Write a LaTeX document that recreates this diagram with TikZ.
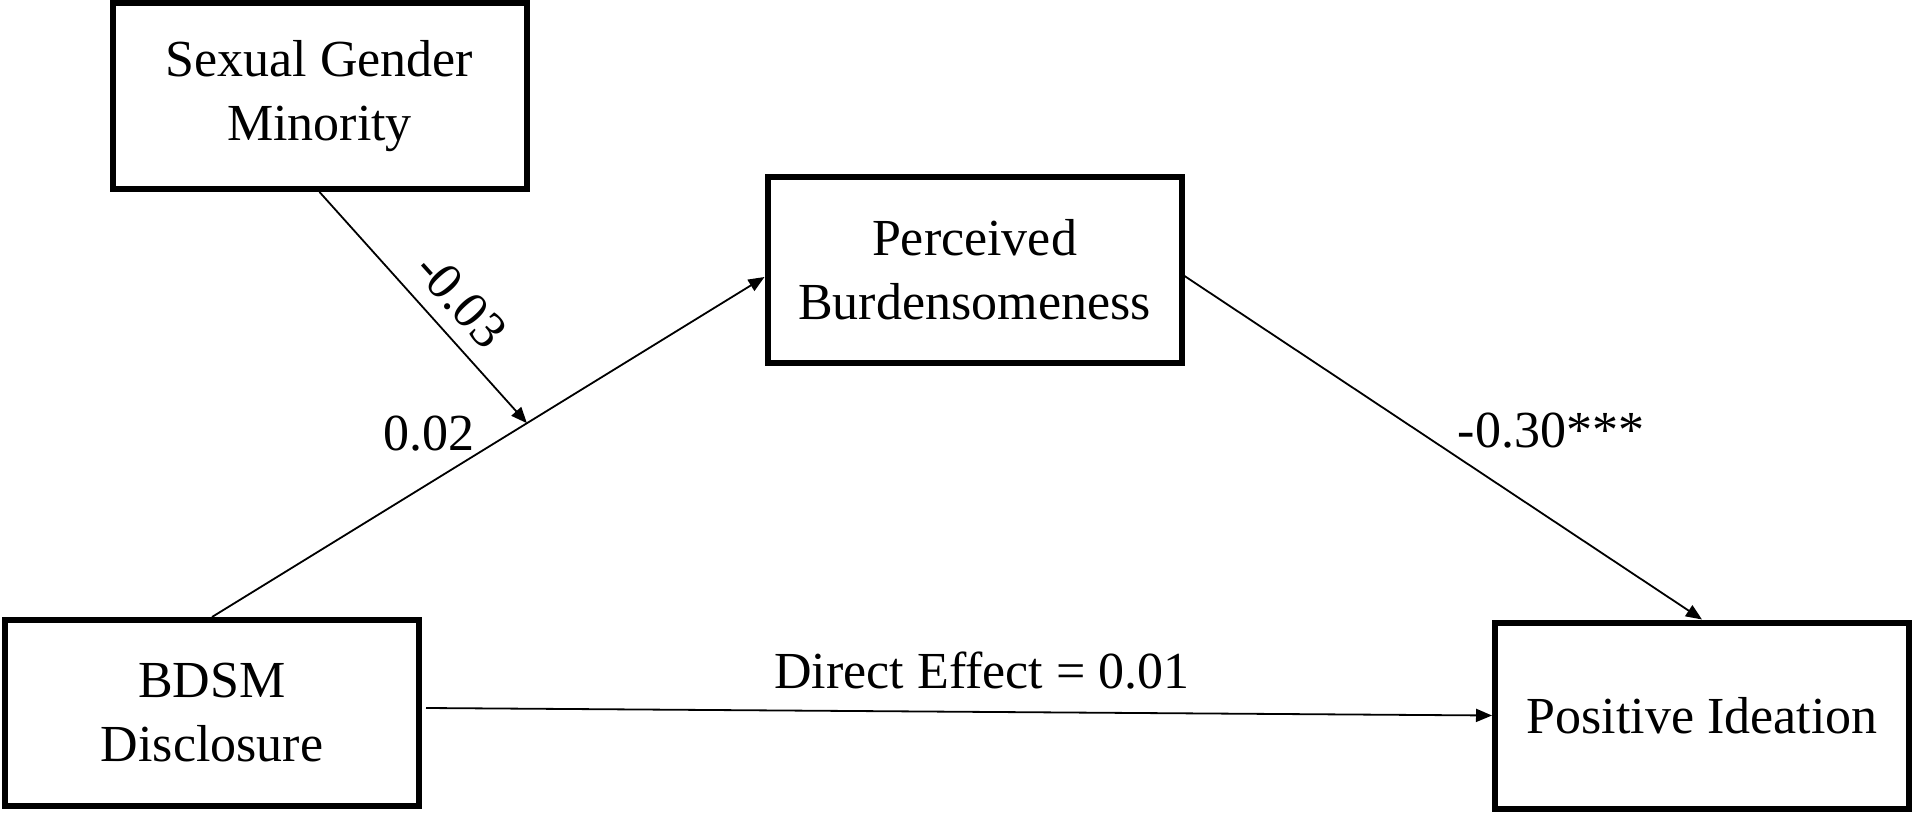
\documentclass[tikz,border=0pt]{standalone}
\usepackage{fontspec}
\setmainfont{Liberation Serif}
\usetikzlibrary{calc,arrows.meta}

\begin{document}
\begin{tikzpicture}[x=1pt,y=-1pt,every node/.style={font=\fontsize{52}{64}\selectfont,align=center},
	var/.style={draw,line width=6pt,minimum width=414pt,minimum height=186pt,inner sep=0pt},
	eff/.style={line width=1.8pt,-{Triangle[length=16pt,width=13pt]}}]
	\useasboundingbox (0,0) rectangle (1920,818);
	%the four boxes placed by hand
	\node[var] (sgm) at (319.5,96){Sexual Gender\\Minority};
	\node[var] (pb) at (974.5,270){Perceived\\Burdensomeness};
	\node[var] (bdsm) at (212,713){BDSM\\Disclosure};
	\node[var] (ideation) at (1702,715.5){Positive Ideation};
	%% a path, with the moderator hitting it at m
	\draw[eff] (bdsm.north) -- ([yshift=-7pt]pb.west) coordinate[pos=0.57] (m);
	\draw[eff] (sgm.south) -- (m);
	%% b path and direct effect
	\draw[eff] ([yshift=-6pt]pb.east) -- (ideation.north);
	\draw[eff] ([xshift=4pt,yshift=5pt]bdsm.east) -- (ideation.west);
	%% coefficients
	\node (a) at (429,434){0.02};
	\node[rotate=-48] (w) at (461,300){-0.03};
	\node (b) at (1551,431){-0.30***};
	\node (c) at (982,671){Direct Effect = 0.01};
\end{tikzpicture}
\end{document}
